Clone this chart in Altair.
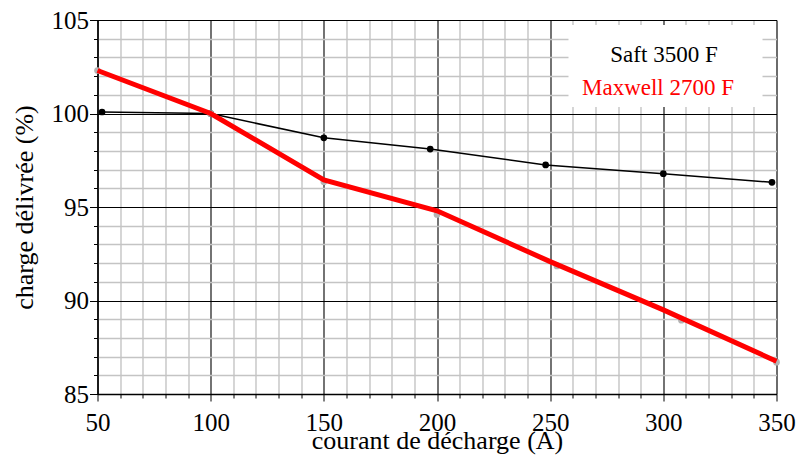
import altair as alt
import pandas as pd

# ---- data ----
saft_x = [52, 100, 150, 197, 248, 300, 348]
saft_y = [100.08, 100.0, 98.7, 98.1, 97.25, 96.78, 96.32]

maxwell_pts_x = [50, 100, 150, 200, 253, 308, 350]
maxwell_pts_y = [102.3, 100.0, 96.35, 94.6, 91.85, 88.95, 86.7]

maxwell_line_x = [50, 100, 150, 200, 250, 300, 350]
maxwell_line_y = [102.3, 100.0, 96.45, 94.8, 92.08, 89.5, 86.75]

x_ticks = list(range(50, 351, 10))
y_ticks = list(range(85, 106, 1))

legend_labels = ["Saft 3500 F", "Maxwell 2700 F"]
legend_colors = ["black", "red"]

FONT = "Liberation Serif"

saft = pd.DataFrame({"x": saft_x, "y": saft_y})
mx_pts = pd.DataFrame({"x": maxwell_pts_x, "y": maxwell_pts_y})
mx_line = pd.DataFrame({"x": maxwell_line_x, "y": maxwell_line_y})


def cond(test, a, b):
    return {"condition": {"test": test, "value": a}, "value": b}


xmaj = "datum.value % 50 === 0"
ymaj = "datum.value % 5 === 0"

x_axis = alt.Axis(
    values=x_ticks,
    labelExpr=f"{xmaj} ? datum.label : ''",
    labelOverlap=False,
    labelBound=False,
    labelFlush=False,
    labelFont=FONT,
    labelFontSize=25,
    labelColor="black",
    labelBaseline="alphabetic",
    labelPadding=29,
    grid=True,
    gridColor=cond(xmaj, "#000000", "#c4c4c4"),
    gridWidth=cond(xmaj, 1.1, 1.4),
    gridOpacity=1,
    ticks=True,
    tickColor="black",
    tickSize=cond(xmaj, 7, 4),
    tickWidth=1,
    domain=True,
    domainColor="black",
    domainWidth=1.5,
    title="courant de décharge (A)",
    titleFont=FONT,
    titleFontSize=26,
    titleFontWeight="normal",
    titleColor="black",
    titleBaseline="alphabetic",
    titleAlign="center",
    titleX=339.5,
    titleY=54,
)

y_axis = alt.Axis(
    values=y_ticks,
    labelExpr=f"{ymaj} ? datum.label : ''",
    labelOverlap=False,
    labelBound=False,
    labelFlush=False,
    labelFont=FONT,
    labelFontSize=25,
    labelColor="black",
    labelBaseline="middle",
    labelPadding=1,
    grid=True,
    gridColor=cond(ymaj, "#000000", "#c4c4c4"),
    gridWidth=cond(ymaj, 1.1, 1.4),
    gridOpacity=1,
    ticks=True,
    tickColor="black",
    tickSize=cond(ymaj, 8, 4),
    tickWidth=1,
    domain=True,
    domainColor="black",
    domainWidth=1.5,
    title="charge délivrée (%)",
    titleFont=FONT,
    titleFontSize=26,
    titleFontWeight="normal",
    titleColor="black",
    titleBaseline="alphabetic",
    titleAlign="center",
    titleAngle=270,
    titleX=-65.5,
    titleY=187,
)

X = alt.X("x:Q", scale=alt.Scale(domain=[50, 350], nice=False, zero=False), axis=x_axis)
Y = alt.Y("y:Q", scale=alt.Scale(domain=[85, 105], nice=False, zero=False), axis=y_axis)

saft_line = alt.Chart(saft).mark_line(color="black", strokeWidth=1.6).encode(x=X, y=Y)
saft_points = alt.Chart(saft).mark_circle(color="black", size=45, opacity=1).encode(x=X, y=Y)
mx_points = alt.Chart(mx_pts).mark_circle(color="#b4b4b4", size=45, opacity=1).encode(x=X, y=Y)
mx_curve = alt.Chart(mx_line).mark_line(color="#ff0000", strokeWidth=5).encode(x=X, y=Y)

legend_box = alt.Chart(pd.DataFrame({"k": [0]})).mark_rect(color="white").encode(
    x=alt.value(471), x2=alt.value(665), y=alt.value(5), y2=alt.value(87)
)

legend_pos = [(566.5, 42), (560.5, 75)]
legend_layers = []
for lab, col, (px, py) in zip(legend_labels, legend_colors, legend_pos):
    legend_layers.append(
        alt.Chart(pd.DataFrame({"k": [0]})).mark_text(
            font=FONT, fontSize=23, align="center", baseline="alphabetic", color=col
        ).encode(x=alt.value(px), y=alt.value(py), text=alt.value(lab))
    )

chart = alt.layer(
    legend_box, saft_line, saft_points, mx_points, mx_curve, *legend_layers
).properties(
    width=679,
    height=374,
    autosize=alt.AutoSizeParams(type="none"),
    padding={"left": 89.5, "top": 12, "right": 24, "bottom": 62},
    background="white",
).configure_view(
    stroke="black", strokeWidth=1.5
).configure_axis(
    labelFont=FONT, titleFont=FONT
).configure(font=FONT)

chart.save("out.html", embed_options={"renderer": "svg", "actions": False})
